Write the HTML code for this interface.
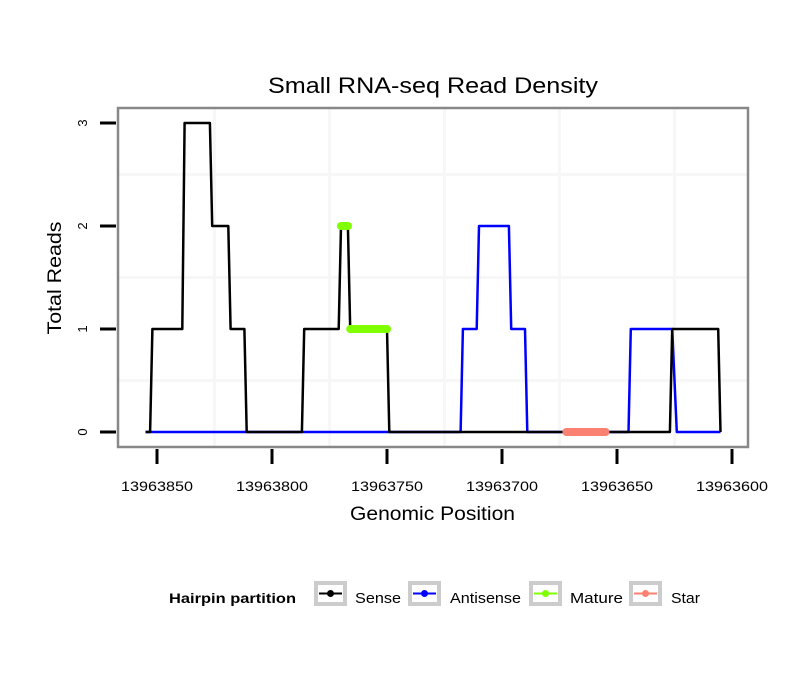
<!DOCTYPE html>
<html><head><meta charset="utf-8"><style>
body{margin:0;background:#fff;}
svg{font-family:"Liberation Sans",sans-serif;}
</style></head><body>
<svg id="chart" width="810" height="690" xmlns="http://www.w3.org/2000/svg">
<rect width="810" height="690" fill="#fff"/>
<text x="268" y="93" font-size="22" textLength="330" lengthAdjust="spacingAndGlyphs">Small RNA-seq Read Density</text>
<g id="grid"></g>
<g id="series"></g>
<rect x="118" y="108" width="630" height="339" fill="none" stroke="#888" stroke-width="2.5"/>
<g id="axes"></g>
<text x="350" y="520" font-size="19" textLength="165" lengthAdjust="spacingAndGlyphs">Genomic Position</text>
<text x="0" y="0" font-size="19" textLength="113" lengthAdjust="spacingAndGlyphs" text-anchor="middle" transform="translate(61,278) rotate(-90)">Total Reads</text>
<g>
<text x="169" y="603" font-size="14" font-weight="bold" textLength="127" lengthAdjust="spacingAndGlyphs">Hairpin partition</text>
<g id="legend-keys"></g>
</g>
</svg>
<script>
const xTicks=[13963850,13963800,13963750,13963700,13963650,13963600];
const yTicks=[0,1,2,3];
const sensePos=[13963855,13963853,13963852,13963839,13963838,13963827,13963826,13963819,13963818,13963812,13963811,13963787,13963786,13963771,13963770,13963767,13963766,13963750,13963749,13963627,13963626,13963606,13963605];
const senseVal=[0,0,1,1,3,3,2,2,1,1,0,0,1,1,2,2,1,1,0,0,1,1,0];
const antiPos=[13963855,13963718,13963717,13963711,13963710,13963697,13963696,13963690,13963689,13963645,13963644,13963626,13963624,13963605];
const antiVal=[0,0,1,1,2,2,1,1,0,0,1,1,0,0];
const matureStart=[13963770,13963766];
const matureEnd=[13963767,13963750];
const matureVal=[2,1];
const starStart=[13963672];
const starEnd=[13963655];
const starVal=[0];
const legendLabels=["Sense","Antisense","Mature","Star"];
const legendColors=["#000","#0000ff","#7fff00","#fa8072"];

const NS="http://www.w3.org/2000/svg";
const X=p=>157+(13963850-p)*2.3;
const Y=v=>432-v*103;
function mk(tag,attrs,parent){const e=document.createElementNS(NS,tag);for(const k in attrs)e.setAttribute(k,attrs[k]);parent.appendChild(e);return e;}
const grid=document.getElementById('grid'),series=document.getElementById('series'),axes=document.getElementById('axes');
for(let i=0;i<xTicks.length-1;i++){const xm=(X(xTicks[i])+X(xTicks[i+1]))/2;
 const l=mk('line',{x1:xm,x2:xm,y1:109,y2:446,stroke:'#f7f7f7','stroke-width':3},grid);
 }
for(let i=0;i<yTicks.length-1;i++){const ym=(Y(yTicks[i])+Y(yTicks[i+1]))/2;
 const l=mk('line',{x1:119,x2:747,y1:ym,y2:ym,stroke:'#f7f7f7','stroke-width':3},grid);
 }
function poly(pos,val,color,name){const pts=pos.map((p,i)=>X(p)+','+Y(val[i])).join(' ');
 const e=mk('polyline',{points:pts,fill:'none',stroke:color,'stroke-width':2.5,'stroke-linejoin':'round'},series);
 }
poly(antiPos,antiVal,'#0000ff','antisense-line');
poly(sensePos,senseVal,'#000','sense-line');
function segs(s,e,v,color,name){for(let i=0;i<s.length;i++){
 const l=mk('line',{x1:X(s[i]),x2:X(e[i]),y1:Y(v[i]),y2:Y(v[i]),stroke:color,'stroke-width':8,'stroke-linecap':'round'},series);
 }}
segs(matureStart,matureEnd,matureVal,'#7fff00','mature-segment');
segs(starStart,starEnd,starVal,'#fa8072','star-segment');
xTicks.forEach(t=>{const x=X(t);
 const l=mk('line',{x1:x,x2:x,y1:449,y2:464,stroke:'#000','stroke-width':3},axes);
 
 const tx=mk('text',{x:x,y:491,'font-size':14,'text-anchor':'middle',textLength:72,lengthAdjust:'spacingAndGlyphs'},axes);tx.textContent=t;
 });
yTicks.forEach(t=>{const y=Y(t);
 const l=mk('line',{x1:100,x2:116,y1:y,y2:y,stroke:'#000','stroke-width':3},axes);
 
 const tx=mk('text',{x:0,y:0,'font-size':13,'text-anchor':'middle',transform:`translate(87,${y}) rotate(-90)`},axes);tx.textContent=t;
 });
const lk=document.getElementById('legend-keys');
const boxX=[316,410,531,631],textX=[355,450,570,671],textW=[46,71,53,29];
legendLabels.forEach((lab,i)=>{
 const r=mk('rect',{x:boxX[i],y:583,width:29,height:21,fill:'#fff',stroke:'#ccc','stroke-width':4},lk);
 
 const l=mk('line',{x1:boxX[i]+3,x2:boxX[i]+26,y1:593.5,y2:593.5,stroke:legendColors[i],'stroke-width':2},lk);
 
 const c=mk('circle',{cx:boxX[i]+14.5,cy:593.5,r:3.5,fill:legendColors[i]},lk);
 
 const t=mk('text',{x:textX[i],y:603,'font-size':15,textLength:textW[i],lengthAdjust:'spacingAndGlyphs'},lk);t.textContent=lab;
 });
</script>
</body></html>
